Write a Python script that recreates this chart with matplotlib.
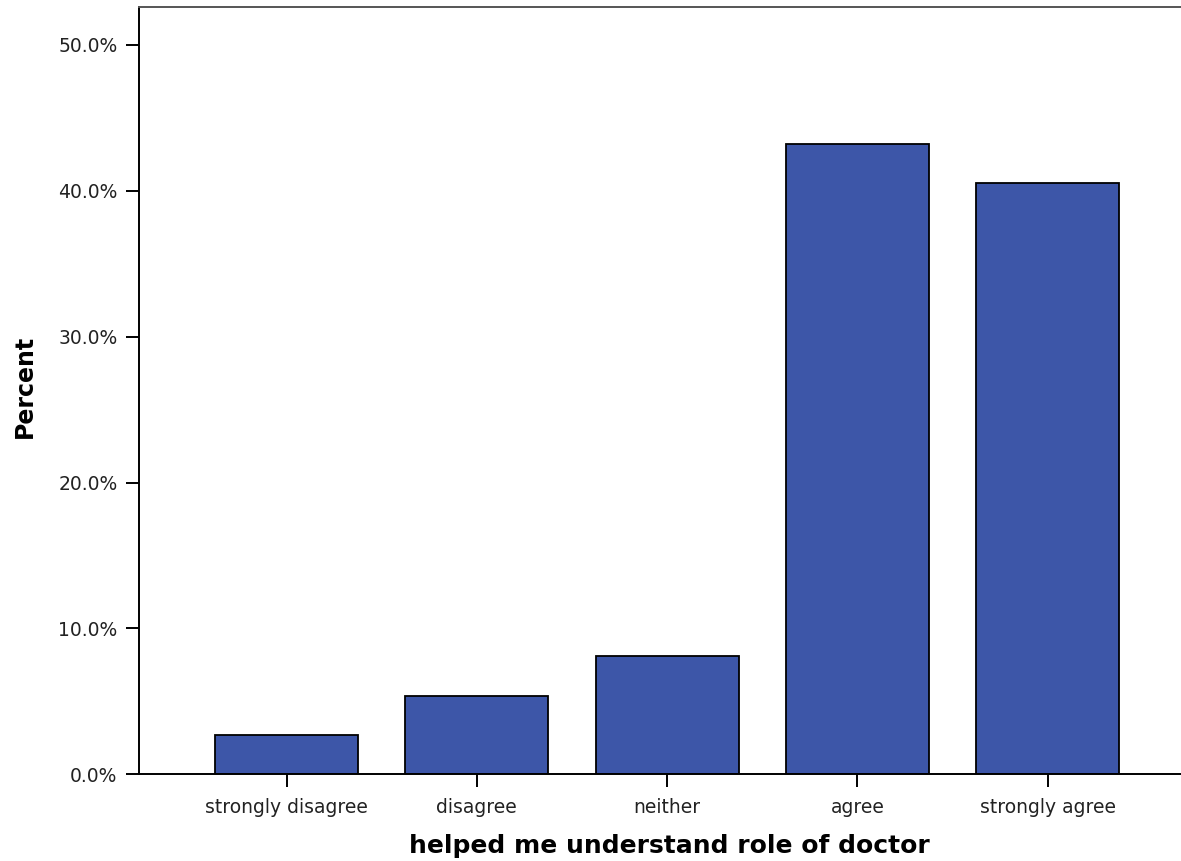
import matplotlib.pyplot as plt
import numpy as np

categorias = ["strongly disagree", "disagree", "neither", "agree", "strongly agree"]
porcentajes = [2.7, 5.4, 8.1, 43.2, 40.5]
ticks_y = [0, 10, 20, 30, 40, 50]

fig = plt.figure(figsize=(11.81, 8.61), dpi=100)
ax = fig.add_axes([0.1177, 0.1007, 0.8823, 0.8912])

x = np.arange(len(categorias))
ax.bar(x, porcentajes, width=0.75, color="#3d56a8", edgecolor="black", linewidth=1.3)

ax.set_xlim(-0.775, 4.70)
ax.set_ylim(0, 52.6)

ax.set_yticks(ticks_y)
ax.set_yticklabels(["%.1f%%" % t for t in ticks_y])
ax.set_xticks(x)
ax.set_xticklabels(categorias)

for lab in ax.get_xticklabels() + ax.get_yticklabels():
    lab.set_family("DejaVu Sans")
    lab.set_fontsize(13.5)
    lab.set_color("#222222")

ax.tick_params(axis="y", length=9.5, width=1.4, pad=6, color="black")
ax.tick_params(axis="x", length=9, width=1.4, pad=8, color="black")

ax.spines["right"].set_visible(False)
for s in ["left", "bottom", "top"]:
    ax.spines[s].set_linewidth(1.4)
ax.spines["top"].set_color("#555555")

ax.set_ylabel("Percent", fontsize=17, fontweight="bold", family="DejaVu Sans")
ax.set_xlabel("helped me understand role of doctor", fontsize=18, fontweight="bold", family="DejaVu Sans")
# posiciones de las etiquetas como en la imagen original
ax.yaxis.set_label_coords(-0.098, 0.505)
ax.xaxis.set_label_coords(0.509, -0.078)

fig.savefig("out.png", dpi=100)
